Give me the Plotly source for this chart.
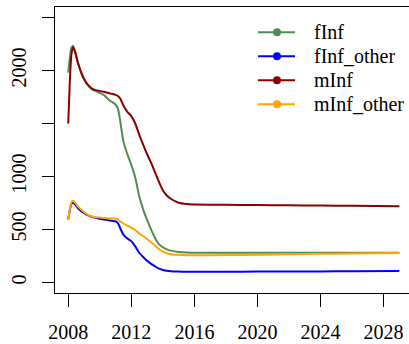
import plotly.graph_objects as go

# Time grid (years) shared by all four series
years = [2008, 2008.1, 2008.2, 2008.3, 2008.45, 2008.6, 2008.8, 2009, 2009.25, 2009.5,
         2009.75, 2010, 2010.25, 2010.5, 2010.75, 2011, 2011.15, 2011.3, 2011.5, 2011.75,
         2012, 2012.25, 2012.5, 2012.75, 2013, 2013.25, 2013.5, 2013.75, 2014, 2014.25,
         2014.5, 2015, 2015.5, 2016, 2018, 2020, 2022, 2024, 2026, 2029]

fInf = [1980, 2120, 2215, 2235, 2170, 2080, 1990, 1920, 1860, 1825,
        1805, 1790, 1770, 1735, 1705, 1680, 1640, 1520, 1330, 1210,
        1110, 990, 815, 690, 590, 500, 420, 362, 332, 312,
        300, 287, 282, 280, 280, 280, 280, 280, 280, 280]

fInf_other = [594, 680, 740, 752, 735, 705, 675, 655, 632, 618,
              610, 600, 594, 588, 582, 577, 560, 510, 450, 415,
              390, 340, 280, 240, 205, 175, 152, 130, 118, 110,
              106, 102, 100, 100, 101, 102, 103, 104, 105, 107]

mInf = [1500, 1900, 2150, 2220, 2170, 2080, 1990, 1920, 1865, 1830,
        1815, 1808, 1800, 1790, 1780, 1770, 1760, 1735, 1670, 1610,
        1570, 1500, 1395, 1300, 1210, 1130, 1040, 950, 870, 820,
        790, 752, 740, 736, 733, 730, 728, 726, 723, 720]

mInf_other = [594, 690, 755, 770, 750, 720, 690, 665, 638, 622,
              615, 612, 609, 606, 604, 603, 595, 575, 556, 535,
              518, 495, 462, 438, 410, 380, 348, 315, 292, 275,
              266, 260, 257, 256, 258, 262, 266, 270, 273, 277]

series_names = ["fInf", "fInf_other", "mInf", "mInf_other"]
series_values = [fInf, fInf_other, mInf, mInf_other]
series_colors = ["#548B54", "#0000FF", "#8B0000", "#FFA500"]

x_ticks = [2008, 2012, 2016, 2020, 2024, 2028]
y_ticks = [0, 500, 1000, 1500, 2000, 2500]
y_tick_text = ["0", "500", "1000", "", "2000", ""]

FONT = "Liberation Serif"

fig = go.Figure()
for name, vals, col in zip(series_names, series_values, series_colors):
    fig.add_trace(go.Scatter(x=years, y=vals, mode="lines", name=name,
                             line=dict(color=col, width=2, shape="spline", smoothing=0.6),
                             showlegend=False))

# Legend drawn in paper coordinates: short line, dot, label
W, H = 409, 344
ML, MR, MT, MB = 55, 0, 7, 51
pw, ph = W - ML - MR, H - MT - MB


def px_x(p):
    return (p - ML) / pw


def px_y(p):
    return (H - MB - p) / ph


shapes = []
annotations = []
row0, row_gap = 32.3, 24.0
for i, (name, col) in enumerate(zip(series_names, series_colors)):
    yy = row0 + i * row_gap
    shapes.append(dict(type="line", xref="paper", yref="paper",
                       x0=px_x(258), x1=px_x(295), y0=px_y(yy), y1=px_y(yy),
                       line=dict(color=col, width=2)))
    shapes.append(dict(type="circle", xref="paper", yref="paper",
                       x0=px_x(273), x1=px_x(281), y0=px_y(yy + 4), y1=px_y(yy - 4),
                       fillcolor=col, line=dict(color=col, width=0)))
    annotations.append(dict(text=name, xref="paper", yref="paper",
                            x=px_x(312), y=px_y(yy), xanchor="left", yanchor="middle",
                            showarrow=False, font=dict(family=FONT, size=20, color="black")))

fig.update_layout(
    width=W, height=H,
    margin=dict(l=ML, r=MR, t=MT, b=MB, pad=0),
    paper_bgcolor="white", plot_bgcolor="white",
    font=dict(family=FONT, size=20, color="black"),
    shapes=shapes, annotations=annotations,
    xaxis=dict(range=[2007.16, 2029.61], tickvals=x_ticks, ticks="outside", ticklen=13,
               tickwidth=1, tickcolor="black", showline=True, linecolor="black",
               linewidth=1, mirror=True, showgrid=False, zeroline=False,
               ticklabelstandoff=8, tickfont=dict(family=FONT, size=20)),
    yaxis=dict(range=[-100, 2600], tickvals=y_ticks, ticktext=y_tick_text,
               ticks="outside", ticklen=12, tickwidth=1, tickcolor="black",
               showline=True, linecolor="black", linewidth=1, mirror=False,
               showgrid=False, zeroline=False, tickangle=-90,
               ticklabelstandoff=8, tickfont=dict(family=FONT, size=20)),
)

fig.write_html("out.html")
